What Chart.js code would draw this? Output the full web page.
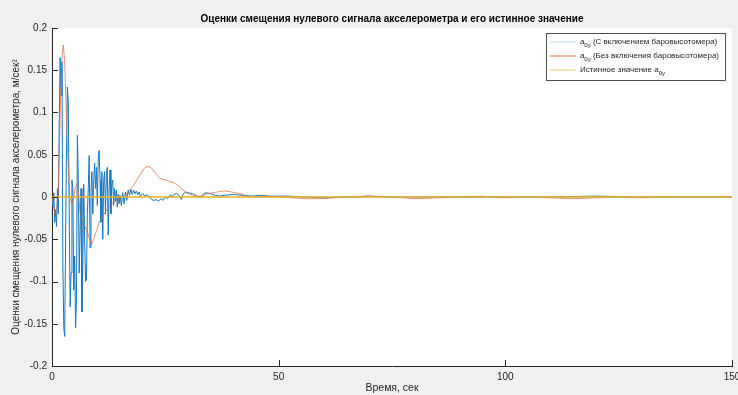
<!DOCTYPE html>
<html>
<head>
<meta charset="utf-8">
<script src="https://cdn.jsdelivr.net/npm/chart.js@4.4.1/dist/chart.umd.min.js"></script>
<style>
  html, body { margin: 0; padding: 0; background: #f0f0f0; }
  #wrap { width: 738px; height: 395px; }
</style>
</head>
<body>
<div id="wrap"><canvas id="c" width="738" height="395"></canvas></div>
<script>
// Bias estimate a0y with the barometric altimeter enabled
const timeWithBaro = [
  0, 0.2, 0.4, 0.6, 0.8, 1.0, 1.2, 1.4, 1.6, 1.8, 2.0, 2.2, 2.4, 2.6, 2.8, 3.0, 3.2, 3.4, 3.6, 3.8,
  4.0, 4.2, 4.4, 4.6, 4.8, 5.0, 5.2, 5.4, 5.6, 5.8, 6.0, 6.2, 6.4, 6.6, 6.8, 7.0, 7.2, 7.4, 7.6, 7.8,
  8.0, 8.2, 8.4, 8.6, 8.8, 9.0, 9.2, 9.4, 9.6, 9.8, 10.0, 10.2, 10.4, 10.6, 10.8, 11.0, 11.2, 11.4, 11.6, 11.8,
  12.0, 12.2, 12.4, 12.6, 12.8, 13.0, 13.2, 13.4, 13.6, 13.8, 14.0, 14.2, 14.4, 14.6, 14.8, 15.0,
  15.3, 15.6, 15.9, 16.2, 16.5, 16.8, 17.1, 17.4, 17.7, 18.0, 18.3, 18.6, 18.9, 19.2, 19.5,
  20, 20.5, 21, 21.5, 22, 22.5, 23, 23.5, 24, 24.5, 25, 25.5, 26, 26.5, 27, 27.5, 28, 28.5, 29, 29.5,
  30, 31, 32, 33, 33.5, 34, 35, 36, 37, 38, 40, 42, 44, 46, 48, 52, 56, 60, 65, 70, 75, 80, 90,
  100, 110, 120, 130, 140, 150
];
const biasWithBaro = [
  0, -0.01, 0.005, -0.03, -0.015, -0.035, 0.01, -0.02, 0.09, 0.165, 0.12, 0.16, -0.08, -0.155, -0.165, -0.05, 0.06, 0.13, 0.11, -0.02,
  -0.13, -0.09, 0.02, 0.01, -0.11, -0.07, -0.155, -0.12, 0.073, 0.02, -0.09, -0.04, 0.01, -0.136, -0.08, 0.015, -0.05, -0.1, -0.098, -0.02,
  0.01, 0.049, -0.06, 0.005, 0.03, -0.02, 0.02, 0.04, 0.01, 0.035, -0.01, 0.045, 0.055, 0.02, -0.03, 0.03, -0.05, 0.02, 0.03, -0.02,
  0.028, 0.035, -0.045, 0.01, 0.032, -0.02, 0.015, 0.02, -0.01, 0.01, -0.005, 0.008, -0.012, 0.003, -0.008, 0.002,
  -0.01, 0.005, -0.008, 0.006, -0.004, 0.008, 0.002, 0.009, 0.003, 0.008, 0.004, 0.007, 0.003, 0.006, 0.001,
  0.004, 0.001, 0.003, 0.0, -0.003, -0.004, -0.003, -0.005, -0.002, -0.004, 0.0, -0.002, 0.002, 0.001, 0.003, 0.004, 0.002, -0.003, 0.004, 0.006,
  0.005, 0.004, 0.001, 0.0, 0.004, 0.005, 0.004, 0.002, 0.001, 0.002, 0.003, 0.002, 0.001, 0.002, 0.001, 0.001, 0.0, -0.001, 0.0, 0.001, 0.0, 0.0, 0.0,
  0.0, 0.0, 0.001, 0.0, 0.0, 0.0
];

// Bias estimate a0y without the barometric altimeter
const timeNoBaro = [
  0, 0.3, 0.66, 1.0, 1.3, 1.6, 1.9, 2.2, 2.5, 2.8, 3.1, 3.4, 3.7, 4.0, 4.4, 4.8, 5.1, 5.5, 5.8, 6.2,
  6.9, 7.6, 8.2, 8.75, 9.2, 9.8, 10.6, 11.3, 12.1, 12.8, 13.5, 14.3, 15.0, 15.6, 16.1, 16.5, 17.2, 18.0, 18.7, 19.4,
  20.1, 20.6, 21.2, 21.8, 22.3, 23.0, 23.8, 24.5, 25.3, 26.0, 26.8, 27.5, 28.2, 29.0, 29.7, 30.5, 31.5, 32.5,
  33.5, 34.5, 35.5, 36.5, 37.5, 38.5, 39.5, 40.5, 41.5, 42.5, 43.7, 46, 48, 50, 53, 56, 59, 62, 65, 70, 75, 80,
  85, 90, 95, 100, 105, 110, 115, 120, 125, 130, 135, 140, 145, 150
];
const biasNoBaro = [
  0, -0.01, -0.02, -0.015, -0.005, 0.05, 0.12, 0.165, 0.18, 0.16, 0.11, 0.06, 0.02, -0.002, -0.008, 0.0, 0.01, 0.016, 0.008, -0.019,
  -0.03, -0.039, -0.048, -0.056, -0.05, -0.04, -0.028, -0.022, -0.015, -0.01, -0.006, -0.004, -0.002, 0.0, 0.001, 0.004, 0.008, 0.014, 0.02, 0.026,
  0.032, 0.035, 0.036, 0.035, 0.032, 0.027, 0.022, 0.021, 0.02, 0.018, 0.017, 0.015, 0.012, 0.008, 0.005, 0.003, 0.001, 0.001,
  0.002, 0.004, 0.005, 0.006, 0.007, 0.007, 0.006, 0.005, 0.004, 0.002, 0.0, 0.0, 0.001, 0.0, -0.001, -0.002, -0.002, -0.001, 0.0, 0.001, 0.0, -0.002,
  -0.001, 0.0, 0.001, -0.001, 0.0, -0.001, -0.002, -0.001, 0.0, -0.001, 0.0, 0.0, 0.0, 0.0
];

// True value of a0y
const timeTrue = [0, 150];
const biasTrue = [0, 0];

const xTickValues = [0, 50, 100, 150];
const yTickValues = [-0.2, -0.15, -0.1, -0.05, 0, 0.05, 0.1, 0.15, 0.2];

// Legend entries: text before the subscript, subscript, text after it
const legendParts = [
  ['a', '0y', ' (С включением баровысотомера)'],
  ['a', '0y', ' (Без включения баровысотомера)'],
  ['Истинное значение a', '0y', '']
];
const legendLineColors = ['#c9def2', '#e58a64', '#f3d28f'];

const toPoints = (xs, ys) => xs.map((x, i) => ({ x: x, y: ys[i] }));

const FONT = '"Liberation Sans", Arial, sans-serif';
const INK = '#262626';

// Figure background and white axes area
const backgroundPlugin = {
  id: 'figureBackground',
  beforeDraw(chart) {
    const { ctx, chartArea: a } = chart;
    ctx.save();
    ctx.fillStyle = '#f0f0f0';
    ctx.fillRect(0, 0, chart.width, chart.height);
    ctx.fillStyle = '#ffffff';
    ctx.fillRect(a.left, a.top, a.right - a.left, a.bottom - a.top);
    ctx.restore();
  }
};

// Tick marks pointing into the axes area
const innerTicksPlugin = {
  id: 'innerTicks',
  afterDatasetsDraw(chart) {
    const { ctx, chartArea: a, scales } = chart;
    ctx.save();
    ctx.strokeStyle = INK;
    ctx.lineWidth = 1;
    ctx.beginPath();
    xTickValues.forEach(v => {
      const px = Math.round(scales.x.getPixelForValue(v)) + 0.5;
      ctx.moveTo(px, a.bottom);
      ctx.lineTo(px, a.bottom - 6);
    });
    yTickValues.forEach(v => {
      const py = Math.round(scales.y.getPixelForValue(v)) + 0.5;
      ctx.moveTo(a.left, py);
      ctx.lineTo(a.left + 6, py);
    });
    ctx.stroke();
    ctx.restore();
  }
};

// Boxed legend in the upper right corner with subscripted labels
const boxedLegendPlugin = {
  id: 'boxedLegend',
  afterDraw(chart) {
    const { ctx, chartArea: a } = chart;
    const boxRight = a.right - 7;
    const boxTop = a.top + 5;
    const rowH = 14;
    const fontMain = '8px ' + FONT;
    const fontSub = '6px ' + FONT;
    ctx.save();
    // measure widest entry
    let maxW = 0;
    legendParts.forEach(p => {
      ctx.font = fontMain;
      let w = ctx.measureText(p[0]).width + ctx.measureText(p[2]).width;
      ctx.font = fontSub;
      w += ctx.measureText(p[1]).width;
      maxW = Math.max(maxW, w);
    });
    const lineLen = 26;
    const boxW = 4 + lineLen + 4 + maxW + 6;
    const boxH = legendParts.length * rowH + 5;
    const boxLeft = boxRight - boxW;
    ctx.fillStyle = '#ffffff';
    ctx.fillRect(boxLeft, boxTop, boxW, boxH);
    ctx.strokeStyle = INK;
    ctx.lineWidth = 0.8;
    ctx.strokeRect(Math.round(boxLeft) + 0.5, Math.round(boxTop) + 0.5, Math.round(boxW), Math.round(boxH));
    legendParts.forEach((p, i) => {
      const cy = boxTop + 9 + i * rowH;
      ctx.strokeStyle = legendLineColors[i];
      ctx.lineWidth = 1.2;
      ctx.beginPath();
      ctx.moveTo(boxLeft + 4, cy);
      ctx.lineTo(boxLeft + 4 + lineLen, cy);
      ctx.stroke();
      ctx.fillStyle = INK;
      ctx.textBaseline = 'middle';
      let tx = boxLeft + 4 + lineLen + 4;
      ctx.font = fontMain;
      ctx.fillText(p[0], tx, cy);
      tx += ctx.measureText(p[0]).width;
      ctx.font = fontSub;
      ctx.fillText(p[1], tx, cy + 3.5);
      tx += ctx.measureText(p[1]).width;
      ctx.font = fontMain;
      ctx.fillText(p[2], tx, cy);
    });
    ctx.restore();
  }
};

new Chart(document.getElementById('c'), {
  type: 'line',
  data: {
    datasets: [
      {
        label: 'a0y (С включением баровысотомера)',
        data: toPoints(timeWithBaro, biasWithBaro),
        borderColor: '#1677c2',
        borderWidth: 1,
        order: 3
      },
      {
        label: 'a0y (Без включения баровысотомера)',
        data: toPoints(timeNoBaro, biasNoBaro),
        borderColor: 'rgba(222,100,55,0.7)',
        borderWidth: 1,
        order: 2
      },
      {
        label: 'Истинное значение a0y',
        data: toPoints(timeTrue, biasTrue),
        borderColor: '#EDB120',
        borderWidth: 1.3,
        order: 1
      }
    ]
  },
  options: {
    responsive: false,
    animation: false,
    events: [],
    elements: { point: { radius: 0 }, line: { tension: 0 } },
    layout: { padding: { left: 0, right: 6, top: 0, bottom: 0 } },
    plugins: {
      legend: { display: false },
      tooltip: { enabled: false },
      title: {
        display: true,
        fullSize: false,
        text: 'Оценки смещения нулевого сигнала акселерометра и его истинное значение',
        color: '#000000',
        font: { family: FONT, size: 10, weight: 'bold' },
        padding: { top: 13, bottom: 3 }
      }
    },
    scales: {
      x: {
        type: 'linear',
        min: 0,
        max: 150,
        afterBuildTicks: s => { s.ticks = xTickValues.map(v => ({ value: v })); },
        afterFit: s => { s.height = 29; s.paddingLeft = 0; s.paddingRight = 0; },
        grid: { display: false, drawTicks: false },
        border: { display: true, color: INK, width: 1 },
        ticks: { color: INK, font: { family: FONT, size: 10 }, padding: 5, maxRotation: 0 },
        title: {
          display: true,
          text: 'Время, сек',
          color: INK,
          font: { family: FONT, size: 10.5 },
          padding: { top: 0, bottom: 1 }
        }
      },
      y: {
        type: 'linear',
        min: -0.2,
        max: 0.2,
        afterBuildTicks: s => { s.ticks = yTickValues.map(v => ({ value: v })); },
        afterFit: s => { s.width = 52; },
        grid: { display: false, drawTicks: false },
        border: { display: true, color: INK, width: 1 },
        ticks: {
          color: INK,
          font: { family: FONT, size: 10 },
          padding: 5,
          callback: v => String(+Number(v).toFixed(2))
        },
        title: {
          display: true,
          text: 'Оценки смещения нулевого сигнала акселерометра, м/сек²',
          color: INK,
          font: { family: FONT, size: 10 },
          padding: { top: 10, bottom: 0 }
        }
      }
    }
  },
  plugins: [backgroundPlugin, innerTicksPlugin, boxedLegendPlugin]
});
</script>
</body>
</html>
